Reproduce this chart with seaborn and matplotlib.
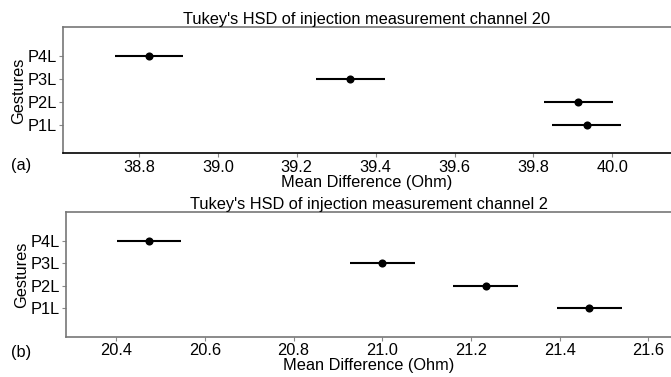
import matplotlib
matplotlib.use("Agg")
import matplotlib.pyplot as plt
import seaborn as sns
import pandas as pd

sns.set_theme(style="white")
plt.rcParams['font.family'] = ['Liberation Sans', 'DejaVu Sans']
plt.rcParams['text.color'] = 'black'
plt.rcParams['axes.labelcolor'] = 'black'
plt.rcParams['axes.titlecolor'] = 'black'

gestures = ["P1L", "P2L", "P3L", "P4L"]

# channel 20
ch20_mean = [39.935, 39.914, 39.336, 38.825]
ch20_half = [0.087, 0.087, 0.087, 0.087]
# channel 2
ch2_mean = [21.467, 21.233, 21.000, 20.474]
ch2_half = [0.073, 0.073, 0.073, 0.073]

titles = ["Tukey's HSD of injection measurement channel 20",
          "Tukey's HSD of injection measurement channel 2"]
panel_tags = ["(a)", "(b)"]
xlims = [(38.607, 40.149), (20.287, 21.651)]
xticks = [[38.8, 39.0, 39.2, 39.4, 39.6, 39.8, 40.0],
          [20.4, 20.6, 20.8, 21.0, 21.2, 21.4, 21.6]]

fig = plt.figure(figsize=(6.71, 3.77), dpi=100)
ax1 = fig.add_axes([0.0939, 0.5934, 0.9061, 0.3337])
ax2 = fig.add_axes([0.0984, 0.1069, 0.9016, 0.3300])

fs = 11.8
tag_pos = [(0.017, 0.562), (0.017, 0.066)]
for ax, means, halves, title, tag, tp, xl, xt in zip(
        [ax1, ax2], [ch20_mean, ch2_mean], [ch20_half, ch2_half],
        titles, panel_tags, tag_pos, xlims, xticks):
    df = pd.DataFrame({"gesture": gestures, "mean": means, "half": halves})
    df["pos"] = range(len(gestures))
    ax.errorbar(df["mean"], df["pos"], xerr=df["half"], fmt="none",
                ecolor="black", elinewidth=1.5, capsize=0)
    sns.scatterplot(data=df, x="mean", y="pos", ax=ax, color="black",
                    s=34, edgecolor="black", linewidth=0, zorder=3)
    ax.set_ylim(-1.25, len(gestures) - 1 + 1.25)
    ax.set_yticks(df["pos"])
    ax.set_yticklabels(gestures, fontsize=fs)
    ax.set_xlim(*xl)
    ax.set_xticks(xt)
    ax.set_xticklabels([f"{v:.1f}" for v in xt], fontsize=fs)
    ax.set_xlabel("Mean Difference (Ohm)", fontsize=fs, labelpad=0)
    ax.set_ylabel("Gestures", fontsize=fs, labelpad=1)
    ax.set_title(title, fontsize=fs, pad=2)
    ax.tick_params(axis="both", which="both", length=3, width=0.8,
                   color="#888888", labelcolor="black", pad=1.5,
                   left=True, bottom=True)
    ax.spines["right"].set_visible(False)
    for s in ["top", "left", "bottom"]:
        ax.spines[s].set_color("#777777")
        ax.spines[s].set_linewidth(1.2)
    fig.text(tp[0], tp[1], tag, fontsize=fs, ha="left", va="center")

ax1.spines["bottom"].set_color("black")

fig.savefig("out.png", dpi=100)
